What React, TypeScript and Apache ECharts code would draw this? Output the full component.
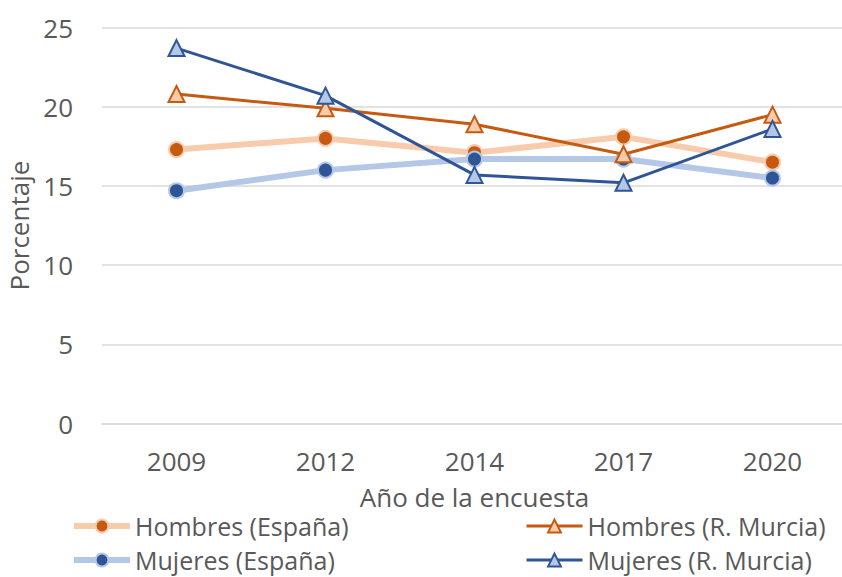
import React, { useEffect, useRef } from "react";
import * as echarts from "echarts";

const years = ["2009", "2012", "2014", "2017", "2020"];
const hombresEspana = [17.3, 18.0, 17.1, 18.1, 16.5];
const hombresMurcia = [20.8, 19.9, 18.9, 17.0, 19.5];
const mujeresEspana = [14.7, 16.0, 16.7, 16.7, 15.5];
const mujeresMurcia = [23.7, 20.7, 15.7, 15.2, 18.6];
const seriesNames = ["Hombres (España)", "Hombres (R. Murcia)", "Mujeres (España)", "Mujeres (R. Murcia)"];

const FONT = "Open Sans";
const GRAY = "#595959";

export default function App() {
  const ref = useRef<HTMLDivElement>(null);
  useEffect(() => {
    if (!ref.current) return;
    const chart = echarts.init(ref.current, undefined, { renderer: "svg" });
    const legendBase = {
      orient: "horizontal",
      padding: 0,
      itemWidth: 56,
      itemHeight: 16,
      textStyle: { fontFamily: FONT, fontSize: 25, lineHeight: 28, color: GRAY },
    };
    chart.setOption({
      animation: false,
      backgroundColor: "#ffffff",
      textStyle: { fontFamily: FONT },
      grid: { left: 102, top: 27.5, height: 396.2, width: 745, containLabel: false, outerBoundsMode: "none" },
      legend: [
        { ...legendBase, data: [seriesNames[0]], left: 71, top: 512, lineStyle: { width: 6 } },
        { ...legendBase, data: [seriesNames[1]], left: 525, top: 512, lineStyle: { width: 3 } },
        { ...legendBase, data: [seriesNames[2]], left: 71, top: 546, lineStyle: { width: 6 } },
        { ...legendBase, data: [seriesNames[3]], left: 525, top: 546, lineStyle: { width: 3 } },
      ],
      xAxis: {
        type: "category",
        data: years,
        boundaryGap: true,
        axisLine: { show: true, lineStyle: { color: "#D9D9D9", width: 1.5 } },
        axisTick: { show: false },
        axisLabel: { color: GRAY, fontSize: 26, fontFamily: FONT, margin: 24 },
        name: "Año de la encuesta",
        nameLocation: "middle",
        nameGap: 60,
        nameTextStyle: { color: GRAY, fontSize: 26, fontFamily: FONT },
      },
      yAxis: {
        type: "value",
        min: 0,
        max: 25,
        interval: 5,
        axisLine: { show: false },
        axisTick: { show: false },
        splitLine: { lineStyle: { color: "#D9D9D9", width: 1.5 } },
        axisLabel: { color: GRAY, fontSize: 26, fontFamily: FONT, margin: 29 },
        name: "Porcentaje",
        nameLocation: "middle",
        nameGap: 67,
        nameRotate: 90,
        nameTextStyle: { color: GRAY, fontSize: 26, fontFamily: FONT },
      },
      series: [
        {
          name: seriesNames[0],
          type: "line",
          data: hombresEspana,
          symbol: "circle",
          symbolSize: 15,
          lineStyle: { color: "#F8CBAD", width: 6 },
          itemStyle: { color: "#C55A11", borderColor: "#F8CBAD", borderWidth: 2 },
          z: 2,
        },
        {
          name: seriesNames[2],
          type: "line",
          data: mujeresEspana,
          symbol: "circle",
          symbolSize: 15,
          lineStyle: { color: "#B4C7E7", width: 6 },
          itemStyle: { color: "#2F5597", borderColor: "#B4C7E7", borderWidth: 2 },
          z: 2,
        },
        {
          name: seriesNames[1],
          type: "line",
          data: hombresMurcia,
          symbol: "triangle",
          symbolSize: 16,
          lineStyle: { color: "#C55A11", width: 3 },
          itemStyle: { color: "#F8CBAD", borderColor: "#C55A11", borderWidth: 2 },
          z: 3,
        },
        {
          name: seriesNames[3],
          type: "line",
          data: mujeresMurcia,
          symbol: "triangle",
          symbolSize: 16,
          lineStyle: { color: "#2F5597", width: 3 },
          itemStyle: { color: "#B4C7E7", borderColor: "#2F5597", borderWidth: 2 },
          z: 3,
        },
      ],
    });
    return () => chart.dispose();
  }, []);
  return (
    <div
      ref={ref}
      style={{ position: "fixed", left: 0, top: 0, width: 842, height: 577, background: "#fff" }}
    />
  );
}
